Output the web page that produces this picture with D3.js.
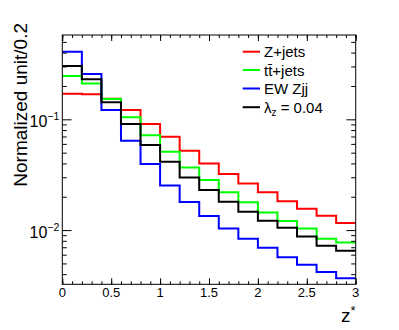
<!DOCTYPE html>
<html>
<head>
<meta charset="utf-8">
<script src="https://cdn.jsdelivr.net/npm/d3@7"></script>
<style>
  body { margin: 0; background: white; }
  text { font-family: "Liberation Sans", Arial, Helvetica, sans-serif; fill: black; }
</style>
</head>
<body>
<div id="chart"></div>
<script>
// bin edges of z* (width 0.2)
const binEdges = [0, 0.2, 0.4, 0.6, 0.8, 1.0, 1.2, 1.4, 1.6, 1.8, 2.0, 2.2, 2.4, 2.6, 2.8, 3.0];

// normalized contents per bin
const zjets = [0.170, 0.168, 0.1535, 0.1213, 0.0907, 0.0697, 0.0520, 0.0400, 0.0321, 0.0264, 0.0220, 0.0182, 0.0156, 0.0135, 0.0116];
const ttjets = [0.246, 0.210, 0.1526, 0.1042, 0.0717, 0.0510, 0.0367, 0.0283, 0.0219, 0.0178, 0.01445, 0.01206, 0.01036, 0.00834, 0.00774];
const ewzjj = [0.408, 0.2566, 0.1213, 0.0641, 0.0395, 0.0253, 0.0179, 0.01338, 0.01036, 0.00834, 0.00692, 0.0057, 0.00486, 0.00418, 0.00368];
const lambda = [0.303, 0.2298, 0.1424, 0.0907, 0.0586, 0.0414, 0.0299, 0.0230, 0.0180, 0.01463, 0.01213, 0.0105, 0.00877, 0.00722, 0.0065];

const seriesNames = ["Z+jets", "tt\u0304+jets", "EW Zjj", "\u03bb"];
const seriesColors = ["#ff0000", "#00ff00", "#0000ff", "#000000"];
const seriesData = [zjets, ttjets, ewzjj, lambda];

const xMajor = [0, 0.5, 1, 1.5, 2, 2.5, 3];
const xMajorLabels = ["0", "0.5", "1", "1.5", "2", "2.5", "3"];
const yMajor = [0.01, 0.1];
const yMajorExp = ["\u22122", "\u22121"];

const width = 399, height = 330;
const frame = {left: 62.3, right: 355.7, top: 35, bottom: 284.3};

const svg = d3.select("#chart").append("svg")
  .attr("width", width)
  .attr("height", height)
  .style("background-color", "white");

const x = d3.scaleLinear().domain([0, 3]).range([frame.left, frame.right]);
const y = d3.scaleLog().domain([0.00324, 0.577]).range([frame.bottom, frame.top]);

// minor tick positions
const xMinor = d3.range(0, 31).map(i => i / 10);
const yMinor = [];
[0.001, 0.01, 0.1].forEach(dec => {
  for (let k = 2; k <= 9; k++) {
    const v = dec * k;
    if (v > 0.00324 && v < 0.577) yMinor.push(v);
  }
});

// histograms as step lines
const line = d3.line()
  .x(d => x(d[0]))
  .y(d => y(d[1]))
  .curve(d3.curveStepAfter);

seriesData.forEach((vals, i) => {
  // last edge repeats the last bin so the step reaches x = 3
  const pts = binEdges.map((e, j) => [e, vals[Math.min(j, vals.length - 1)]]);
  svg.append("path")
    .attr("d", line(pts))
    .attr("fill", "none")
    .attr("stroke", seriesColors[i])
    .attr("stroke-width", 2);
});

// frame
svg.append("rect")
  .attr("x", frame.left)
  .attr("y", frame.top)
  .attr("width", frame.right - frame.left)
  .attr("height", frame.bottom - frame.top)
  .attr("fill", "none")
  .attr("stroke", "black")
  .attr("stroke-width", 1);

// ticks (inward on all four sides)
function tickGroup(axisFn, scale, values, size, transform) {
  const g = svg.append("g")
    .attr("transform", transform)
    .call(axisFn(scale).tickValues(values).tickSize(-size).tickFormat(""));
  g.select(".domain").remove();
  g.selectAll("line").attr("stroke", "black").attr("stroke-width", 1);
}
tickGroup(d3.axisBottom, x, xMinor, 3, `translate(0,${frame.bottom})`);
tickGroup(d3.axisBottom, x, xMajor, 6, `translate(0,${frame.bottom})`);
tickGroup(d3.axisTop, x, xMinor, 3, `translate(0,${frame.top})`);
tickGroup(d3.axisTop, x, xMajor, 6, `translate(0,${frame.top})`);
tickGroup(d3.axisLeft, y, yMinor, 4.5, `translate(${frame.left},0)`);
tickGroup(d3.axisLeft, y, yMajor, 9.3, `translate(${frame.left},0)`);
tickGroup(d3.axisRight, y, yMinor, 4.5, `translate(${frame.right},0)`);
tickGroup(d3.axisRight, y, yMajor, 9.3, `translate(${frame.right},0)`);

// x tick labels
svg.selectAll(".xlab")
  .data(xMajor)
  .enter().append("text")
  .attr("x", d => x(d))
  .attr("y", 296.7)
  .attr("text-anchor", "middle")
  .style("font-size", "13px")
  .text((d, i) => xMajorLabels[i]);

// y tick labels 10^n
yMajor.forEach((v, i) => {
  const t = svg.append("text")
    .attr("x", frame.left - 3)
    .attr("y", y(v) + 8)
    .attr("text-anchor", "end");
  t.append("tspan").style("font-size", "16px").text("10");
  t.append("tspan").style("font-size", "10.5px").attr("dy", -7.3).text(yMajorExp[i]);
});

// axis titles
svg.append("text")
  .attr("transform", "translate(27.3,23) rotate(-90)")
  .attr("text-anchor", "end")
  .style("font-size", "19px")
  .text("Normalized unit/0.2");

const zt = svg.append("text")
  .attr("x", 355.5)
  .attr("y", 322.3)
  .attr("text-anchor", "end")
  .style("font-size", "19px");
zt.append("tspan").text("z");
zt.append("tspan").style("font-size", "13px").attr("dy", -7).text("*");

// legend
const legendY = [51.7, 70, 88.5, 107.2];
seriesNames.forEach((name, i) => {
  svg.append("line")
    .attr("x1", 242.7).attr("x2", 260)
    .attr("y1", legendY[i]).attr("y2", legendY[i])
    .attr("stroke", seriesColors[i])
    .attr("stroke-width", 2);
  const t = svg.append("text")
    .attr("x", 264)
    .attr("y", legendY[i] + 5.5)
    .style("font-size", "15px");
  t.append("tspan").text(name);
  if (i === 3) {
    t.append("tspan").style("font-size", "10px").attr("dy", 3).text("z");
    t.append("tspan").attr("dy", -3).text(" = 0.04");
  }
});
</script>
</body>
</html>
